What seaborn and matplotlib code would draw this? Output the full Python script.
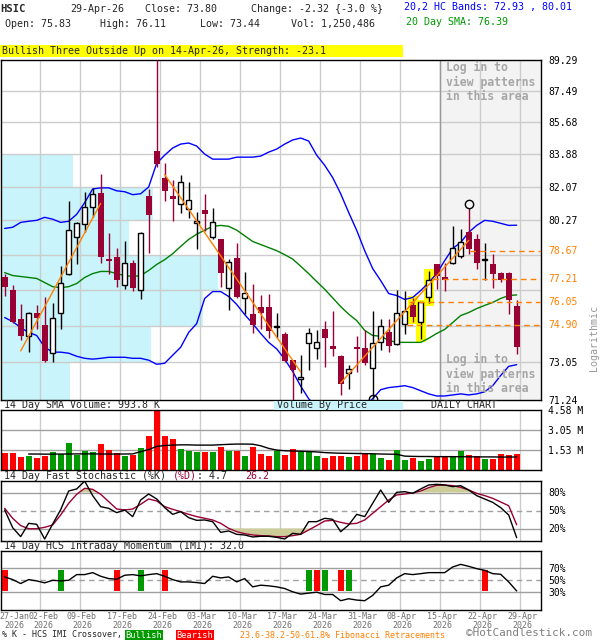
import numpy as np
import seaborn as sns
import matplotlib.pyplot as plt
import matplotlib.transforms as mtransforms
from matplotlib.patches import Rectangle
from matplotlib.ticker import NullLocator, NullFormatter

# ---- daily candles, 27-Jan-26 .. 29-Apr-26 ----
opens = [77.33, 76.66, 75.20, 74.32, 75.46, 74.90, 73.49, 75.50, 77.48, 79.37,
         80.06, 80.96, 81.75, 78.25, 78.36, 76.92, 78.05, 76.66, 81.59, 84.05,
         82.58, 81.59, 81.17, 80.85, 80.11, 80.80, 79.37, 79.26, 76.76, 78.31,
         76.21, 75.45, 75.76, 75.76, 74.78, 74.41, 73.15, 72.22, 73.98, 73.73,
         74.66, 73.83, 73.34, 72.51, 73.78, 73.73, 72.76, 74.02, 74.51, 73.93,
         74.95, 75.86, 75.05, 76.26, 77.95, 77.28, 78.05, 78.41, 79.63, 79.26,
         78.18, 78.00, 77.53, 77.53, 75.83]
highs = [77.48, 76.87, 75.91, 75.55, 75.86, 76.26, 75.96, 77.89, 81.33, 80.16,
         81.81, 82.02, 82.80, 79.58, 78.83, 79.15, 78.20, 79.63, 81.96, 89.29,
         83.37, 82.47, 82.75, 82.35, 80.69, 81.70, 80.91, 79.30, 78.25, 79.05,
         77.58, 76.97, 76.41, 76.46, 75.50, 74.51, 73.17, 73.39, 74.75, 74.61,
         75.10, 75.60, 73.39, 72.90, 74.32, 74.61, 75.60, 75.20, 75.20, 76.66,
         76.61, 76.21, 76.05, 77.63, 78.00, 78.05, 79.95, 79.79, 80.91, 79.53,
         79.05, 78.51, 77.55, 77.55, 76.11]
lows = [76.31, 75.00, 74.12, 73.54, 74.66, 73.05, 73.05, 74.70, 77.40, 78.00,
        79.63, 80.43, 78.05, 77.48, 76.81, 76.71, 76.61, 76.16, 78.57, 83.14,
        81.33, 80.22, 80.64, 80.38, 78.73, 79.69, 79.30, 76.81, 75.65, 76.21,
        75.45, 74.46, 74.66, 74.22, 74.22, 73.05, 71.24, 71.58, 72.66, 73.20,
        72.80, 73.34, 71.48, 71.78, 72.56, 72.90, 71.30, 73.63, 73.54, 73.88,
        74.41, 75.05, 74.17, 75.96, 76.71, 76.61, 78.00, 78.31, 78.51, 77.74,
        77.17, 76.76, 77.07, 75.45, 73.44]
closes = [76.81, 75.05, 74.32, 75.50, 75.25, 73.10, 75.25, 77.02, 79.74, 80.11,
          81.01, 81.70, 78.36, 78.15, 77.17, 78.05, 76.76, 79.58, 80.54, 83.31,
          81.86, 81.44, 82.35, 81.38, 80.22, 80.59, 80.16, 77.53, 78.10, 76.26,
          76.51, 74.90, 75.50, 74.56, 74.82, 73.10, 72.66, 72.32, 74.46, 74.02,
          74.22, 73.68, 72.02, 72.71, 73.68, 73.00, 73.98, 74.85, 73.83, 75.50,
          75.60, 75.30, 76.01, 77.17, 77.38, 77.17, 78.83, 79.10, 78.78, 78.05,
          78.22, 77.48, 77.17, 76.12, 73.80]

# 20,2 HC bands and 20 day SMA
band_upper = [79.84, 79.90, 80.16, 80.22, 80.27, 80.43, 80.33, 80.16, 80.22, 80.59,
              81.22, 81.96, 82.02, 82.02, 81.86, 81.81, 81.65, 81.70, 82.07, 83.37,
              83.82, 84.22, 84.44, 84.50, 84.33, 83.88, 83.60, 83.60, 83.60, 83.71,
              83.71, 83.71, 83.77, 83.99, 84.16, 84.44, 84.67, 84.78, 84.61, 83.82,
              83.26, 82.58, 81.70, 80.69, 79.74, 78.67, 77.74, 77.12, 76.46, 76.36,
              76.16, 76.26, 76.61, 77.02, 77.48, 78.15, 78.78, 79.10, 79.63, 80.00,
              80.27, 80.22, 80.11, 80.00, 80.01]
band_lower = [75.25, 75.05, 74.75, 74.51, 74.36, 73.78, 73.54, 73.54, 73.49, 73.34,
              73.24, 73.20, 73.24, 73.29, 73.29, 73.29, 73.24, 73.24, 73.15, 72.95,
              73.00, 73.39, 73.78, 74.51, 74.95, 76.21, 76.56, 76.56, 76.31, 75.91,
              75.40, 74.95, 74.46, 74.02, 73.70, 73.20, 72.60, 71.90, 71.30, 70.90,
              70.60, 70.40, 70.35, 70.50, 70.70, 71.00, 71.30, 71.73, 71.83, 71.87,
              71.92, 71.83, 71.68, 71.53, 71.43, 71.43, 71.48, 71.53, 71.48, 71.53,
              71.63, 71.92, 72.41, 72.85, 72.93]
sma20 = [77.53, 77.38, 77.33, 77.28, 77.23, 77.02, 76.81, 76.76, 76.81, 76.97,
         77.28, 77.48, 77.59, 77.59, 77.48, 77.38, 77.33, 77.38, 77.64, 77.95,
         78.20, 78.51, 78.89, 79.26, 79.53, 79.75, 79.95, 80.00, 79.95, 79.75,
         79.45, 79.15, 78.99, 78.83, 78.67, 78.46, 78.23, 77.86, 77.48, 77.07,
         76.68, 76.24, 75.80, 75.42, 75.10, 74.61, 74.36, 74.32, 74.12, 74.02,
         74.02, 74.02, 74.02, 74.22, 74.46, 74.66, 75.00, 75.35, 75.50, 75.70,
         75.86, 76.01, 76.21, 76.36, 76.39]

# volume (millions) and its 14 day SMA (line starts at the 4th bar)
volume = [1.30, 1.30, 1.01, 1.09, 0.94, 1.09, 1.38, 1.25, 2.03, 1.12,
          1.48, 1.40, 1.95, 1.56, 1.30, 1.09, 1.17, 1.69, 2.60, 4.58,
          2.57, 2.34, 1.61, 1.43, 1.38, 1.40, 1.35, 1.79, 1.48, 1.48,
          1.09, 1.79, 1.25, 1.09, 1.46, 1.17, 1.64, 1.38, 1.38, 1.09,
          0.94, 1.09, 1.04, 1.01, 1.09, 1.25, 1.25, 0.94, 0.78, 1.56,
          0.78, 0.94, 0.70, 0.86, 0.99, 0.99, 1.09, 1.48, 1.17, 1.09,
          0.86, 0.86, 1.25, 1.17, 1.25]
vol_sma_start = 3
vol_sma = [1.22, 1.22, 1.21, 1.21, 1.22, 1.22, 1.23, 1.23, 1.23, 1.22,
           1.22, 1.22, 1.22, 1.23, 1.40, 1.56, 1.80, 1.87, 1.90, 1.92,
           1.92, 1.90, 1.90, 1.90, 1.93, 1.96, 1.98, 1.98, 1.97, 1.85,
           1.65, 1.52, 1.47, 1.45, 1.43, 1.41, 1.38, 1.33, 1.30, 1.28,
           1.27, 1.26, 1.25, 1.24, 1.22, 1.21, 1.20, 1.06, 1.04, 1.03,
           1.03, 1.02, 1.02, 1.02, 1.01, 1.01, 1.00, 1.00, 1.00, 0.99,
           0.99, 0.99]

# 14 day fast stochastic
stoch_k = [50.9, 21.4, 6.4, 28.6, 27.0, 2.5, 27.5, 51.4, 82.5, 85.9,
           99.0, 74.8, 56.4, 53.6, 46.4, 50.9, 39.8, 67.5, 77.5, 69.2,
           54.8, 43.6, 48.1, 38.1, 33.6, 34.2, 31.4, 13.6, 15.9, 10.3,
           9.2, 5.9, 7.0, 7.0, 5.3, 2.5, 12.0, 10.3, 31.4, 31.4,
           37.0, 35.3, 14.7, 25.9, 43.6, 39.8, 62.0, 84.2, 63.6, 80.3,
           81.4, 78.6, 85.9, 92.5, 93.6, 92.5, 89.8, 91.4, 84.2, 74.8,
           69.2, 63.6, 54.8, 42.5, 4.7]
stoch_d = [53.6, 37.0, 24.8, 19.6, 19.6, 22.0, 25.9, 42.5, 62.0, 77.0,
           87.0, 85.3, 77.0, 64.8, 52.5, 50.9, 52.5, 60.3, 69.2, 65.9,
           56.4, 52.0, 48.1, 43.6, 39.8, 37.0, 34.2, 28.6, 20.3, 14.7,
           11.4, 9.2, 8.1, 7.5, 6.4, 6.4, 8.1, 10.3, 17.5, 24.8,
           32.5, 33.6, 30.3, 27.5, 28.6, 34.2, 45.3, 56.4, 67.5, 75.9,
           77.5, 79.2, 82.5, 88.1, 92.0, 92.5, 91.4, 88.6, 84.2, 78.6,
           74.8, 70.3, 64.2, 58.0, 26.2]

# 14 day HCS intraday momentum
imi = [55.6, 51.1, 44.5, 51.1, 48.9, 45.6, 50.0, 48.9, 50.0, 59.5,
       59.5, 62.8, 56.7, 52.8, 51.7, 58.4, 59.5, 57.3, 59.5, 61.1,
       56.7, 51.1, 47.2, 47.2, 46.1, 44.5, 56.7, 53.9, 55.6, 47.2,
       52.8, 38.9, 41.7, 40.6, 38.9, 36.1, 30.6, 26.7, 28.4, 30.0,
       26.1, 26.1, 15.6, 18.9, 16.7, 15.6, 24.5, 38.9, 41.7, 53.9,
       61.1, 59.5, 61.1, 62.8, 62.8, 62.8, 72.3, 76.7, 73.4, 69.5,
       66.7, 61.1, 60.0, 47.2, 32.0]
imi_bull = [7, 17, 38, 40, 43]
imi_bear = [0, 14, 20, 39, 42, 60]

date_idx = [0, 4, 9, 14, 19, 24, 29, 34, 39, 44, 49, 54, 59, 64]
date_lbl = ['27-Jan', '02-Feb', '09-Feb', '17-Feb', '24-Feb', '03-Mar', '10-Mar',
            '17-Mar', '24-Mar', '31-Mar', '08-Apr', '15-Apr', '22-Apr', '29-Apr']

price_ticks = [89.29, 87.49, 85.68, 83.88, 82.07, 80.27, 78.46, 76.66, 74.85, 73.05, 71.24]
price_lbl = ['89.29', '87.49', '85.68', '83.88', '82.07', '80.27', '', '', '', '73.05', '71.24']
vbp_pct = [0, 0, 0, 33, 70, 59, 100, 93, 69, 32]   # volume by price per grid band, top->bottom

fib_levels = [78.67, 77.21, 76.05, 74.90]
fib_start = [58.2, 53.5, 50.6, 50.3]
trend_x = [[2, 12], [20, 37], [42, 58]]
trend_y = [[73.60, 81.18], [82.75, 72.58], [72.05, 79.21]]
pattern_idx = [51, 52, 53]
pivot_idx = [46, 58]
pivot_px = [71.30, 81.12]

vol_ticks = [1.53, 3.05, 4.58]

# ---- style ----
sns.set_theme(style='white', context='paper')
plt.rcParams['font.family'] = ['DejaVu Sans Mono', 'DejaVu Sans']

W, H = 600, 640
MAROON = '#990033'
ORANGE = '#ff8000'
GRID = '#cccccc'
MIDGRAY = '#a0a0a0'
CYAN = '#c9f4fb'
VGREEN = '#009900'
VRED = '#ff0000'
XMAX = 67.04
XMIN = -0.46

fig = plt.figure(figsize=(W / 100, H / 100), dpi=100)
idx = np.arange(len(closes))
o, h, l, c = map(np.array, (opens, highs, lows, closes))
up = c >= o


def panel(x0, y0, x1, y1):
    a = fig.add_axes([x0 / W, 1 - y1 / H, (x1 - x0) / W, (y1 - y0) / H])
    a.set_xlim(XMIN, XMAX)
    for s in a.spines.values():
        s.set_color('black')
        s.set_linewidth(1)
    a.yaxis.tick_right()
    a.tick_params(length=0, labelsize=7, pad=5, colors='black')
    a.set_xticks([])
    for i in date_idx[1:]:
        a.axvline(i + 0.41, color=GRID, lw=1, zorder=0.5)
    return a


def ftxt(x, y, s, size=7.2, **kw):
    kw.setdefault('va', 'center')
    fig.text(x / W, 1 - y / H, s, fontsize=size, **kw)


def frect(x0, y0, x1, y1, color):
    fig.add_artist(Rectangle((x0 / W, 1 - y1 / H), (x1 - x0) / W, (y1 - y0) / H,
                             transform=fig.transFigure, color=color, lw=0))


# ---- header ----
ftxt(0, 9, 'HSIC', size=7.6, weight='bold')
ftxt(70, 9, '29-Apr-26')
ftxt(145, 9, 'Close: 73.80')
ftxt(251, 9, 'Change: -2.32 {-3.0 %}')
ftxt(5, 24, 'Open: 75.83')
ftxt(100, 24, 'High: 76.11')
ftxt(200, 24, 'Low: 73.44')
ftxt(291, 24, 'Vol: 1,250,486')
ftxt(404, 7, '20,2 HC Bands: 72.93 , 80.01', color='#0000ff')
ftxt(406, 22, '20 Day SMA: 76.39', color=VGREEN)
frect(0, 45, 403, 57, '#ffff00')
ftxt(2, 51, 'Bullish Three Outside Up on 14-Apr-26, Strength: -23.1')

# ---- price panel ----
ax = panel(1, 60, 541, 400)
ax.set_yscale('log')
ax.set_ylim(price_ticks[-1], price_ticks[0])
ax.yaxis.set_minor_locator(NullLocator())
ax.yaxis.set_minor_formatter(NullFormatter())
ax.set_yticks(price_ticks)
ax.set_yticklabels(price_lbl)
for p in price_ticks[1:-1]:
    ax.axhline(p, color=GRID, lw=1, zorder=0.5)

pt = np.array(price_ticks)
ax.barh(pt[1:], np.array(vbp_pct) / 100 * 27.1, height=pt[:-1] - pt[1:], left=XMIN,
        align='edge', color=CYAN, lw=0, zorder=0.2)

login_x = date_idx[11] + 0.41
ax.axvspan(login_x, XMAX, color='#f3f3f3', lw=0, zorder=0.3)
ax.axvline(login_x, color='#999999', lw=1, zorder=0.6)

for i in pattern_idx:
    ax.bar(i, h[i] - l[i] + 0.22, bottom=l[i] - 0.12, width=1.24, color='#ffff00', lw=0, zorder=1.5)

sns.lineplot(x=idx, y=band_upper, ax=ax, color='#0000ff', lw=1, legend=False, zorder=2.5)
sns.lineplot(x=idx, y=band_lower, ax=ax, color='#0000ff', lw=1, legend=False, zorder=2.5)
sns.lineplot(x=idx, y=sma20, ax=ax, color='#008000', lw=1, legend=False, zorder=2.5)

ax.vlines(idx[up], l[up], h[up], color='black', lw=1, zorder=3)
ax.vlines(idx[~up], l[~up], h[~up], color=MAROON, lw=1, zorder=3)
ax.bar(idx[up], c[up] - o[up], bottom=o[up], width=0.62, facecolor='white',
       edgecolor='black', lw=1, zorder=4)
ax.bar(idx[~up], o[~up] - c[~up], bottom=c[~up], width=0.75, color=MAROON, lw=0, zorder=4)

for tx, ty in zip(trend_x, trend_y):
    ax.plot(tx, ty, color=ORANGE, lw=1, zorder=5)
ax.hlines(fib_levels, fib_start, XMAX, colors=ORANGE, linestyles=(0, (4, 3)), lw=1, zorder=5)
ax.plot(pivot_idx, pivot_px, 'o', mfc='none', mec='black', ms=6, mew=1, zorder=6, clip_on=False)

trans = mtransforms.blended_transform_factory(ax.transAxes, ax.transData)
for lvl in fib_levels:
    ax.text(1 + 7 / 540, lvl, f'{lvl:.2f}', transform=trans, color=ORANGE,
            fontsize=7, va='center', ha='left')

for y0 in (67, 359):
    for k, line in enumerate(['Log in to', 'view patterns', 'in this area']):
        ftxt(446.5, y0 + 15 * k, line, size=8.3, weight='bold', color='#a6a6a6')
ftxt(594, 338, 'Logarithmic', rotation=90, color='#999999', ha='center')

# ---- volume panel ----
ftxt(4, 405, '14 Day SMA Volume: 993.8 K')
frect(274, 400.5, 403, 409.5, CYAN)
ftxt(277, 405, 'Volume By Price')
ftxt(431, 405, 'DAILY CHART')

av = panel(1, 410, 541, 470)
av.set_ylim(0, vol_ticks[-1])
for v in vol_ticks[:-1]:
    av.axhline(v, color=MIDGRAY, lw=1, zorder=0.6)
av.bar(idx, volume, width=0.75, color=[VGREEN if u else VRED for u in up], lw=0, zorder=2)
sns.lineplot(x=idx[vol_sma_start:], y=vol_sma, ax=av, color='black', lw=1, legend=False, zorder=3)
av.set_yticks(vol_ticks)
av.set_yticklabels([f'{v:.2f} M' for v in vol_ticks])

# ---- stochastic panel ----
ch = 6.02
ftxt(4, 476, '14 Day Fast Stochastic (%K) ')
ftxt(4 + 28 * ch, 476, '(%D)', color=MAROON)
ftxt(4 + 32 * ch, 476, ': 4.7')
ftxt(4 + 40 * ch, 476, '26.2', color=MAROON)

ast = panel(1, 480.5, 541, 540.5)
ast.set_ylim(0, 100)
d = np.array(stoch_d)
ast.fill_between(idx, 80, d, where=d > 80, interpolate=True, color='#cccc99', lw=0, zorder=1)
ast.fill_between(idx, 20, d, where=d < 20, interpolate=True, color='#cccc99', lw=0, zorder=1)
for v in (20, 80):
    ast.axhline(v, color=MIDGRAY, lw=1, zorder=0.6)
ast.axhline(50, color=MIDGRAY, lw=1, ls=(0, (4, 3)), zorder=0.6)
sns.lineplot(x=idx, y=stoch_d, ax=ast, color=MAROON, lw=1, legend=False, zorder=2)
sns.lineplot(x=idx, y=stoch_k, ax=ast, color='black', lw=1, legend=False, zorder=3)
ast.set_yticks([20, 50, 80])
ast.set_yticklabels(['20%', '50%', '80%'])

# ---- IMI panel ----
ftxt(4, 546, '14 Day HCS Intraday Momentum (IMI): 32.0')
ai = panel(1, 550.5, 541, 610)
ai.set_ylim(0, 100)
for v in (30, 70):
    ai.axhline(v, color=MIDGRAY, lw=1, zorder=0.6)
ai.axhline(50, color=MIDGRAY, lw=1, ls=(0, (4, 3)), zorder=0.6)
ai.bar(imi_bull, 36, bottom=32, width=0.75, color=VGREEN, lw=0, zorder=2)
ai.bar(imi_bear, 36, bottom=32, width=0.75, color=VRED, lw=0, zorder=2)
sns.lineplot(x=idx, y=imi, ax=ai, color='black', lw=1, legend=False, zorder=3)
ai.set_yticks([30, 50, 70])
ai.set_yticklabels(['30%', '50%', '70%'])

# date labels sit just right of their grid line; the first two are nudged apart
xt = [i + 0.66 for i in date_idx]
xt[0], xt[1] = 1.16, date_idx[1] + 0.9
ai.set_xticks(xt)
ai.set_xticklabels([f'{s}\n2026' for s in date_lbl], fontsize=6, linespacing=1.0,
                   color='#707070')
ai.tick_params(axis='x', pad=1.2)

# ---- footer legend ----
ftxt(2, 635, '% K - HCS IMI Crossover,', size=6)
frect(125, 630, 163, 640, VGREEN)
ftxt(144, 635, 'Bullish', size=6.2, color='white', ha='center')
frect(176, 630, 214, 640, VRED)
ftxt(195, 635, 'Bearish', size=6.2, color='white', ha='center')
ftxt(240, 635, '23.6-38.2-50-61.8% Fibonacci Retracements', size=6, color=ORANGE)
ftxt(466, 633.5, '\u00a9HotCandlestick.com', size=7.9, color='#808080')

fig.savefig('out.png', dpi=100)
